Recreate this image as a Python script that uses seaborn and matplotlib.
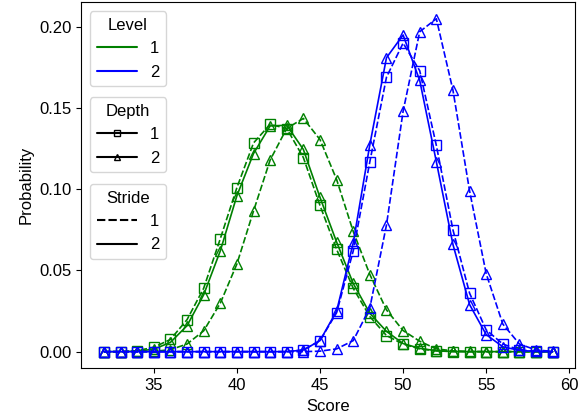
import pandas as pd
import seaborn as sns
import matplotlib.pyplot as plt
from matplotlib.lines import Line2D

sns.set_style("ticks", {"axes.edgecolor": "black", "xtick.color": "black",
                        "ytick.color": "black", "text.color": "black",
                        "axes.labelcolor": "black"})
plt.rcParams['font.family'] = ['Liberation Sans', 'DejaVu Sans']
plt.rcParams['font.size'] = 12

scores = list(range(32, 60))

# Level 1 (green)
g_sq_dash = [0, 0, 0.0006, 0.0027, 0.0075, 0.0197, 0.039, 0.0695, 0.101, 0.1285,
             0.140, 0.1374, 0.1195, 0.090, 0.063, 0.039, 0.0216, 0.0099, 0.0047,
             0.0017, 0.0005, 0, 0, 0, 0, 0, 0, 0]
g_tri_solid = [0, 0, 0.0003, 0.0015, 0.0057, 0.016, 0.035, 0.062, 0.096, 0.122,
               0.139, 0.1394, 0.1245, 0.095, 0.0675, 0.042, 0.0236, 0.0125, 0.005,
               0.002, 0.0006, 0.0001, 0, 0, 0, 0, 0, 0]
g_tri_dash = [0, 0, 0, 0.0002, 0.0012, 0.0047, 0.0128, 0.0298, 0.054, 0.0866,
              0.118, 0.1375, 0.1436, 0.1306, 0.106, 0.074, 0.0475, 0.0257, 0.013,
              0.0064, 0.0017, 0.0005, 0.0001, 0, 0, 0, 0, 0]

# Level 2 (blue)
b_sq_dash = [0, 0, 0, 0, 0, 0, 0, 0, 0, 0, 0, 0, 0.001, 0.0068, 0.024, 0.062,
             0.117, 0.169, 0.190, 0.173, 0.127, 0.075, 0.036, 0.0134, 0.0047,
             0.001, 0.0002, 0]
b_tri_solid = [0, 0, 0, 0, 0, 0, 0, 0, 0, 0, 0, 0, 0.001, 0.0068, 0.025, 0.067,
               0.1275, 0.181, 0.195, 0.167, 0.117, 0.066, 0.029, 0.0105, 0.003,
               0.0008, 0.0001, 0]
b_tri_dash = [0, 0, 0, 0, 0, 0, 0, 0, 0, 0, 0, 0, 0, 0.0003, 0.0017, 0.0068,
              0.027, 0.078, 0.148, 0.197, 0.205, 0.161, 0.099, 0.048, 0.017,
              0.0047, 0.001, 0.0002]

series = [
    ("1", "1", "1", g_sq_dash),
    ("1", "2", "2", g_tri_solid),
    ("1", "2", "1", g_tri_dash),
    ("2", "1", "1", b_sq_dash),
    ("2", "2", "2", b_tri_solid),
    ("2", "2", "1", b_tri_dash),
]

rows = []
for level, depth, stride, vals in series:
    for s, p in zip(scores, vals):
        rows.append(dict(Score=s, Probability=p, Level=level, Depth=depth, Stride=stride))
df = pd.DataFrame(rows)

colors = {"1": "green", "2": "blue"}
markers = {"1": "s", "2": "^"}
dashes = {"1": (4, 1.5), "2": ""}

fig = plt.figure(figsize=(5.78, 4.19), dpi=100)
ax = fig.add_axes([0.141, 0.121, 0.854, 0.874])

for (level, depth, stride), sub in df.groupby(["Level", "Depth", "Stride"]):
    sns.lineplot(data=sub, x="Score", y="Probability", ax=ax, color=colors[level],
                 marker=markers[depth], markersize=7.5, markerfacecolor="none",
                 markeredgecolor=colors[level], markeredgewidth=1.0,
                 dashes=dashes[stride], linewidth=1.2, legend=False)

ax.set_xticks([35, 40, 45, 50, 55, 60])
ax.set_yticks([0, 0.05, 0.10, 0.15, 0.20])
ax.set_yticklabels(["0.00", "0.05", "0.10", "0.15", "0.20"])
ax.set_xlabel("Score")
ax.set_ylabel("Probability")

leg_kw = dict(loc="upper left", borderaxespad=0, handlelength=2.4, fontsize=12, title_fontsize=12)
h1 = [Line2D([], [], color="green", lw=1.5), Line2D([], [], color="blue", lw=1.5)]
h2 = [Line2D([], [], color="black", lw=1.5, marker="s", markersize=5, markerfacecolor="none"),
      Line2D([], [], color="black", lw=1.5, marker="^", markersize=5, markerfacecolor="none")]
h3 = [Line2D([], [], color="black", lw=1.5, dashes=(4, 1.5)), Line2D([], [], color="black", lw=1.5)]

l1 = ax.legend(h1, ["1", "2"], title="Level", bbox_to_anchor=(0.017, 0.975), **leg_kw)
ax.add_artist(l1)
l2 = ax.legend(h2, ["1", "2"], title="Depth", bbox_to_anchor=(0.017, 0.74), **leg_kw)
ax.add_artist(l2)
ax.legend(h3, ["1", "2"], title="Stride", bbox_to_anchor=(0.017, 0.503), **leg_kw)

fig.savefig("out.png", dpi=100)
